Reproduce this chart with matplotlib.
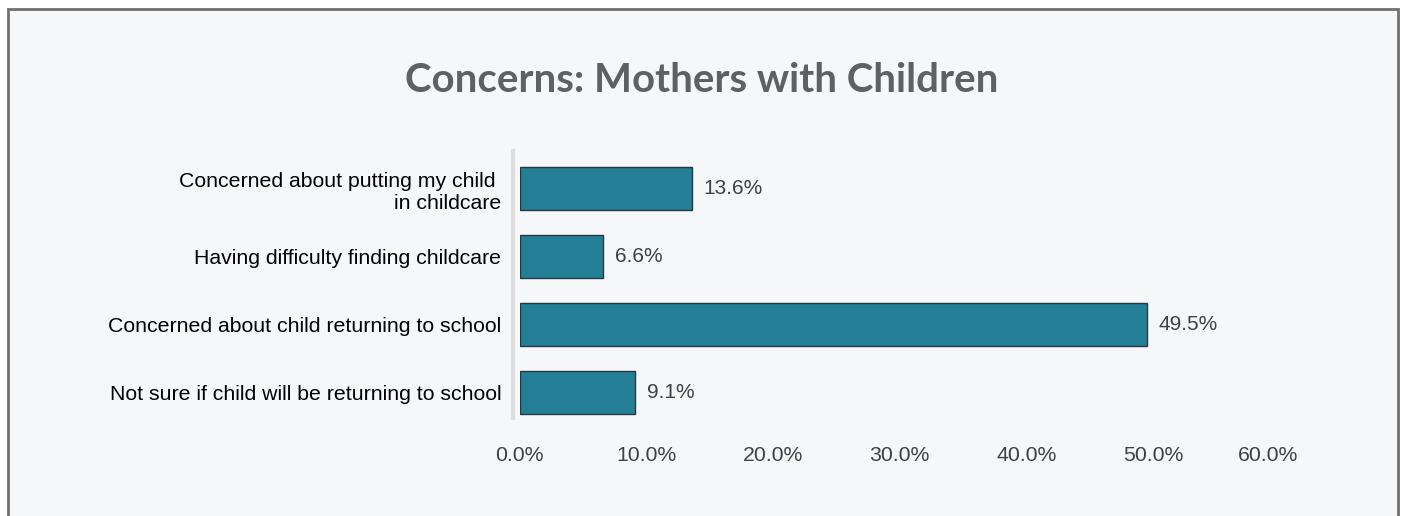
import matplotlib
matplotlib.use("Agg")
import matplotlib.pyplot as plt
import matplotlib.transforms as mtransforms
from matplotlib.patches import Rectangle
from matplotlib.ticker import FuncFormatter

plt.rcParams["font.family"] = ["Liberation Sans", "DejaVu Sans"]

# data
kategorier = ["Concerned about putting my child \nin childcare",
              "Having difficulty finding childcare",
              "Concerned about child returning to school",
              "Not sure if child will be returning to school"]
andel = [13.6, 6.6, 49.5, 9.1]
x_ticks = [0, 10, 20, 30, 40, 50, 60]

W, H = 1403, 516
fig = plt.figure(figsize=(W / 100, H / 100), dpi=100, facecolor="white")

# panel with grey frame (bottom edge runs off the picture)
panel = Rectangle((8 / W, -0.1), (1398 - 8) / W, 1.1 - 9 / H,
                  transform=fig.transFigure, facecolor="#f6f7f9",
                  edgecolor="#707070", linewidth=2, zorder=0)
fig.add_artist(panel)

ax = fig.add_axes([519.5 / W, 1 - 427 / H, (1280 - 519.5) / W, (427 - 154.5) / H])
ax.set_facecolor("none")

pos = list(range(len(kategorier)))
ax.barh(pos, andel, height=0.63, color="#237e96", edgecolor="#263a44", linewidth=1)

for p, v in zip(pos, andel):
    ax.annotate(f"{v:.1f}%", (v, p), xytext=(8.6, 0), textcoords="offset points",
                ha="left", va="center", fontsize=15, color="#404040")

ax.set_xlim(0, 60)
ax.set_ylim(3.5, -0.5)
ax.set_xticks(x_ticks)
ax.xaxis.set_major_formatter(FuncFormatter(lambda v, _: f"{v:.1f}%"))
ax.set_yticks(pos)
ax.set_yticklabels(kategorier)
ax.tick_params(axis="x", length=0, pad=14, labelsize=15.3, labelcolor="#404040")
ax.tick_params(axis="y", length=0, pad=8, labelsize=15.3, labelcolor="black")

# last x label sits a bit inside the plot edge
siste = ax.get_xticklabels()[-1]
siste.set_transform(siste.get_transform() +
                    mtransforms.ScaledTranslation(-12 / 100, 0, fig.dpi_scale_trans))

for s in ["top", "right", "bottom"]:
    ax.spines[s].set_visible(False)
ax.spines["left"].set_position(("outward", 5))
ax.spines["left"].set_color("#dcdcdc")
ax.spines["left"].set_linewidth(3)
ax.spines["left"].set_bounds(3.375, -0.55)

fig.text(0.5, 1 - 80 / H, "Concerns: Mothers with Children", ha="center", va="center",
         fontsize=29, fontweight="bold", color="#5f6061", family=["Lato", "DejaVu Sans"])

fig.savefig("out.png", dpi=100, facecolor="white")
